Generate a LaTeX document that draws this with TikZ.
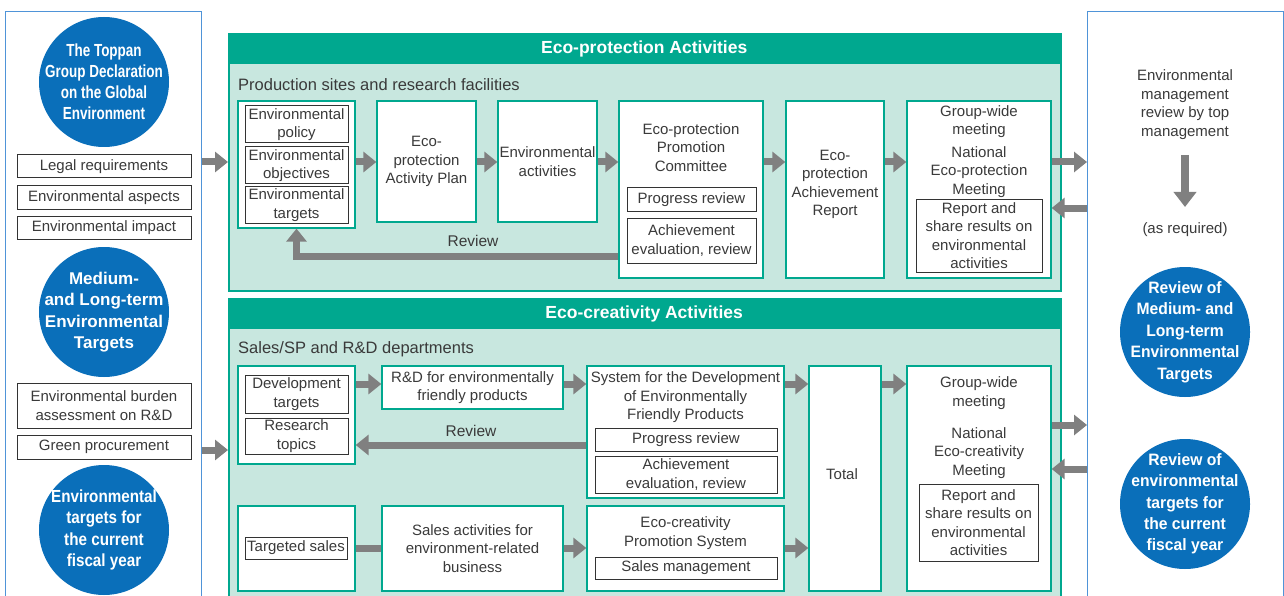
\documentclass[tikz,border=0pt]{standalone}
\usepackage{fontspec}
\setmainfont{Liberation Sans}
\newfontfamily\circnarrow[FakeStretch=0.77]{Liberation Sans Bold}
\newfontfamily\circsemi[FakeStretch=0.87]{Liberation Sans Bold}
\newfontfamily\circslight[FakeStretch=0.95]{Liberation Sans Bold}
\usepackage{tikz}
\usetikzlibrary{arrows.meta}
\definecolor{tpblue}{HTML}{0A6FBA}
\definecolor{panelblue}{HTML}{4F94D8}
\definecolor{ecogreen}{HTML}{00A88F}
\definecolor{ecofill}{HTML}{C8E7DF}
\definecolor{arrowgray}{HTML}{808080}
\definecolor{txtgray}{HTML}{3A3A3A}
\newcommand{\boxfont}{\fontsize{15}{18.5}\selectfont}
\tikzset{
	bluepanel/.style={rectangle,draw=panelblue,line width=1.4pt,fill=white,anchor=north west,minimum width=196pt,minimum height=620pt},
	panelstyle/.style={rectangle,draw=ecogreen,line width=1.5pt,fill=ecofill,anchor=north west,minimum width=832pt},
	headstyle/.style={rectangle,fill=ecogreen,anchor=north west,minimum width=832pt,minimum height=30pt,text=white,font=\fontsize{17.5}{20}\selectfont\bfseries},
	substyle/.style={anchor=west,inner sep=0pt,text=txtgray,font=\fontsize{16.5}{19}\selectfont},
	boxstyle/.style={rectangle,draw=ecogreen,line width=1.3pt,fill=white,text=txtgray,align=center,inner sep=0pt,font=\boxfont},
	framestyle/.style={rectangle,draw=black!80,line width=1pt,fill=white,text=txtgray,align=center,inner sep=0pt,font=\boxfont},
	textstyle/.style={text=txtgray,align=center,inner sep=0pt,font=\boxfont},
	circstyle/.style={circle,fill=tpblue,text=white,align=center,inner sep=-20pt,minimum size=130pt},
	arrowstyle/.style={draw=arrowgray,line width=7pt,-{Triangle[width=20pt,length=13pt]}},
	barstyle/.style={draw=arrowgray,line width=7pt}
}
\begin{document}
\begin{tikzpicture}[x=1pt,y=-1pt]
	\useasboundingbox (0,0) rectangle (1284,596);
	\clip (0,0) rectangle (1284,596);
	\node[bluepanel] (left) at (5,11) {};
	\node[bluepanel] (right) at (1087,11) {};
	\node[panelstyle,minimum height=257pt] (top) at (228,33) {};
	\node[headstyle] (toph) at (228,34) {Eco-protection Activities};
	\node[panelstyle,minimum height=330pt] (bot) at (228,298) {};
	\node[headstyle] (both) at (228,299) {Eco-creativity Activities};
	\node[substyle] (topsub) at (238,85) {Production sites and research facilities};
	\node[substyle] (botsub) at (238,349) {Sales/SP and R\&D departments};

	\node[circstyle,font=\circnarrow\fontsize{17.5}{21}\selectfont] (decl) at (104,82) {The Toppan\\Group Declaration\\on the Global\\Environment};
	\node[circstyle,font=\bfseries\fontsize{17}{21.5}\selectfont] (midterm) at (104,312) {Medium-\\and Long-term\\Environmental\\Targets};
	\node[circstyle,font=\circsemi\fontsize{17.5}{21.3}\selectfont] (curyear) at (104,530) {Environmental\\targets for\\the current\\fiscal year};
	\node[circstyle,font=\circslight\fontsize{16.5}{21.5}\selectfont] (revmid) at (1185,332) {Review of\\Medium- and\\Long-term\\Environmental\\Targets};
	\node[circstyle,font=\circslight\fontsize{16.5}{21.3}\selectfont] (revcur) at (1185,504) {Review of\\environmental\\targets for\\the current\\fiscal year};

	\node[framestyle,minimum width=174pt,minimum height=23pt] (legal) at (104,166.5) {Legal requirements};
	\node[framestyle,minimum width=174pt,minimum height=23pt] (aspects) at (104,197.5) {Environmental aspects};
	\node[framestyle,minimum width=174pt,minimum height=23pt] (impact) at (104,227.5) {Environmental impact};
	\node[framestyle,minimum width=174pt,minimum height=45pt] (burden) at (104,405.5) {Environmental burden\\assessment on R\&D};
	\node[framestyle,minimum width=174pt,minimum height=24pt] (procure) at (104,447) {Green procurement};

	\node[boxstyle,minimum width=117pt,minimum height=127pt] (pol) at (296.5,164.5) {};
	\node[framestyle,minimum width=103pt,minimum height=37pt] (policy) at (296.5,124.5) {Environmental\\policy};
	\node[framestyle,minimum width=103pt,minimum height=37pt] (objectives) at (296.5,165.5) {Environmental\\objectives};
	\node[framestyle,minimum width=103pt,minimum height=36pt] (targets) at (296.5,205) {Environmental\\targets};
	\node[boxstyle,minimum width=99pt,minimum height=121pt] (plan) at (426.5,161.5) {Eco-\\protection\\Activity Plan};
	\node[boxstyle,minimum width=99pt,minimum height=121pt] (activ) at (547.5,161.5) {Environmental\\activities};
	\node[boxstyle,minimum width=144pt,minimum height=177pt] (comm) at (691,189.5) {};
	\node[textstyle] (commtext) at (691,147.5) {Eco-protection\\Promotion\\Committee};
	\node[framestyle,minimum width=129pt,minimum height=23pt] (prog) at (691.5,199.5) {Progress review};
	\node[framestyle,minimum width=129pt,minimum height=45pt] (achiev) at (691.5,240.5) {Achievement\\evaluation, review};
	\node[boxstyle,minimum width=98pt,minimum height=177pt] (report) at (835,189.5) {};
	\node[textstyle] (reporttext) at (835,184.5) {Eco-\\protection\\Achievement\\Report};
	\node[boxstyle,minimum width=144pt,minimum height=177pt] (meet) at (979,189.5) {};
	\node[textstyle] (groupa) at (979,121.5) {Group-wide\\meeting};
	\node[textstyle] (nationala) at (979,172) {National\\Eco-protection\\Meeting};
	\node[framestyle,minimum width=126pt,minimum height=73pt] (share) at (979,235.5) {Report and\\share results on\\environmental\\activities};
	\node[textstyle,font=\fontsize{15.5}{18}\selectfont] (reviewa) at (473,241) {Review};

	\node[boxstyle,minimum width=117pt,minimum height=98pt] (dev) at (296.5,415) {};
	\node[framestyle,minimum width=103pt,minimum height=38pt] (devtarg) at (296.5,394) {Development\\targets};
	\node[framestyle,minimum width=103pt,minimum height=36pt] (research) at (296.5,436) {Research\\topics};
	\node[boxstyle,minimum width=181pt,minimum height=43pt] (rd) at (472.5,387.5) {R\&D for environmentally\\friendly products};
	\node[boxstyle,minimum width=197pt,minimum height=132pt] (sys) at (685.5,432) {};
	\node[textstyle] (systext) at (685.5,397.5) {System for the Development\\of Environmentally\\Friendly Products};
	\node[framestyle,minimum width=182pt,minimum height=23pt] (progb) at (686,439.5) {Progress review};
	\node[framestyle,minimum width=182pt,minimum height=37pt] (achievb) at (686,474.5) {Achievement\\evaluation, review};
	\node[boxstyle,minimum width=72pt,minimum height=225pt] (total) at (845,478.5) {};
	\node[textstyle] (totaltext) at (842,474) {Total};
	\node[boxstyle,minimum width=144pt,minimum height=225pt] (meetb) at (979,478.5) {};
	\node[textstyle] (groupb) at (979,393) {Group-wide\\meeting};
	\node[textstyle] (nationalb) at (979,453) {National\\Eco-creativity\\Meeting};
	\node[framestyle,minimum width=119pt,minimum height=77pt] (shareb) at (978.5,522.5) {Report and\\share results on\\environmental\\activities};
	\node[boxstyle,minimum width=117pt,minimum height=85pt] (sales) at (296.5,548.5) {};
	\node[framestyle,minimum width=102pt,minimum height=22pt] (targsales) at (296,548) {Targeted sales};
	\node[boxstyle,minimum width=181pt,minimum height=85pt] (salesact) at (472.5,548.5) {Sales activities for\\environment-related\\business};
	\node[boxstyle,minimum width=197pt,minimum height=85pt] (promo) at (685.5,548.5) {};
	\node[textstyle] (promotext) at (685.5,533) {Eco-creativity\\Promotion System};
	\node[framestyle,minimum width=182pt,minimum height=22pt] (salesmgmt) at (686,568) {Sales management};
	\node[textstyle,font=\fontsize{15.5}{18}\selectfont] (reviewb) at (471,431) {Review};

	\node[textstyle] (mgmt) at (1185,104.5) {Environmental\\management\\review by top\\management};
	\node[textstyle] (asreq) at (1185,230) {(as required)};

	\draw[arrowstyle] (left.east |- 0,162) -- (top.west |- 0,162);
	\draw[arrowstyle] (left.east |- 0,450) -- (bot.west |- 0,450);
	\draw[arrowstyle] (pol.east |- 0,162) -- (plan.west |- 0,162);
	\draw[arrowstyle] (plan.east |- 0,162) -- (activ.west |- 0,162);
	\draw[arrowstyle] (activ.east |- 0,162) -- (comm.west |- 0,162);
	\draw[arrowstyle] (comm.east |- 0,162) -- (report.west |- 0,162);
	\draw[arrowstyle] (report.east |- 0,162) -- (meet.west |- 0,162);
	\draw[arrowstyle] (meet.east |- 0,162) -- (right.west |- 0,162);
	\draw[arrowstyle] (right.west |- 0,208) -- (meet.east |- 0,208);
	\draw[arrowstyle] (comm.west |- 0,256) -| (pol.south);
	\draw[arrowstyle] (dev.east |- 0,384) -- (rd.west |- 0,384);
	\draw[arrowstyle] (rd.east |- 0,384) -- (sys.west |- 0,384);
	\draw[arrowstyle] (sys.east |- 0,384) -- (total.west |- 0,384);
	\draw[arrowstyle] (total.east |- 0,384) -- (meetb.west |- 0,384);
	\draw[arrowstyle] (sys.west |- 0,445) -- (dev.east |- 0,445);
	\draw[barstyle] (sales.east |- 0,548) -- (salesact.west |- 0,548);
	\draw[arrowstyle] (salesact.east |- 0,548) -- (promo.west |- 0,548);
	\draw[arrowstyle] (promo.east |- 0,548) -- (total.west |- 0,548);
	\draw[arrowstyle] (meetb.east |- 0,425) -- (right.west |- 0,425);
	\draw[arrowstyle] (right.west |- 0,469) -- (meetb.east |- 0,469);
	\draw[arrowstyle,-{Triangle[width=22pt,length=15pt]},line width=8pt] (mgmt.south |- 0,155) -- (mgmt.south |- 0,207);
\end{tikzpicture}
\end{document}
